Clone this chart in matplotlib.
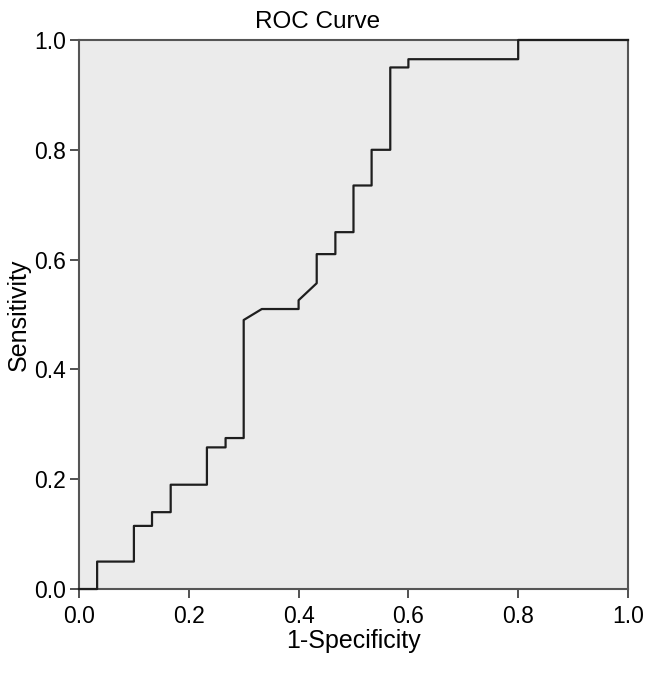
import matplotlib.pyplot as plt

# ROC curve points (1-specificity, sensitivity)
fpr = [0.0, 0.033, 0.033, 0.1, 0.1, 0.133, 0.133, 0.167, 0.167, 0.233, 0.233,
       0.267, 0.267, 0.3, 0.3, 0.333, 0.4, 0.4, 0.433, 0.433, 0.467, 0.467,
       0.5, 0.5, 0.533, 0.533, 0.567, 0.567, 0.6, 0.6, 0.8, 0.8, 1.0]
tpr = [0.0, 0.0, 0.05, 0.05, 0.115, 0.115, 0.14, 0.14, 0.19, 0.19, 0.258,
       0.258, 0.275, 0.275, 0.49, 0.51, 0.51, 0.526, 0.557, 0.61, 0.61, 0.65,
       0.65, 0.735, 0.735, 0.80, 0.80, 0.95, 0.95, 0.965, 0.965, 1.0, 1.0]

ticks = [0.0, 0.2, 0.4, 0.6, 0.8, 1.0]
tick_labels = ["0.0", "0.2", "0.4", "0.6", "0.8", "1.0"]

plt.rcParams["font.family"] = ["Liberation Sans", "DejaVu Sans"]

fig = plt.figure(figsize=(6.46, 6.79), dpi=100)
ax = fig.add_axes([0.1223, 0.1325, 0.8498, 0.8086])
ax.set_facecolor("#ebebeb")

ax.plot(fpr, tpr, color="#1e1e1e", linewidth=1.6, clip_on=False, zorder=3)

ax.set_xlim(0, 1)
ax.set_ylim(0, 1)
ax.set_xticks(ticks)
ax.set_xticklabels(tick_labels)
ax.set_yticks(ticks)
ax.set_yticklabels(tick_labels)
ax.tick_params(axis="both", direction="out", length=6.5, width=1.2,
               color="#333333", labelsize=16.5)
ax.tick_params(axis="x", pad=5)
ax.tick_params(axis="y", pad=3)

for side in ax.spines.values():
    side.set_color("#555555")
    side.set_linewidth(1.5)

ax.set_xlabel("1-Specificity", fontsize=18, labelpad=1)
ax.set_ylabel("Sensitivity", fontsize=18, labelpad=2)
fig.text(0.492, 0.968, "ROC Curve", ha="center", va="center", fontsize=17.5)

fig.savefig("out.png", dpi=100)
